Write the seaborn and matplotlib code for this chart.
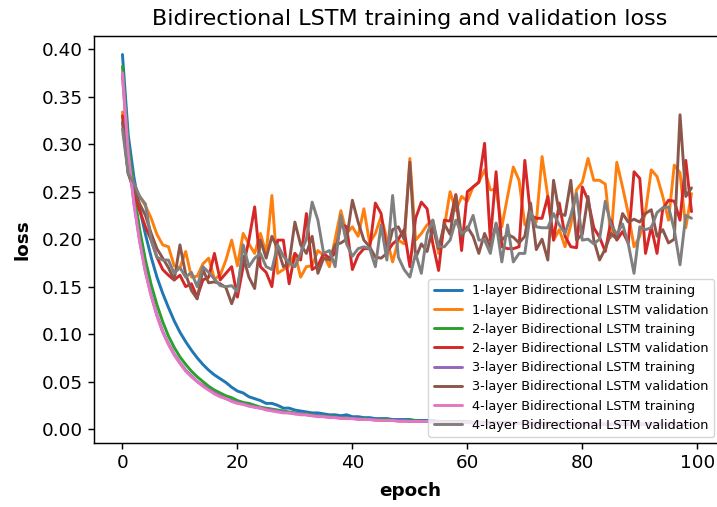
import numpy as np
import pandas as pd
import matplotlib
matplotlib.use("Agg")
import matplotlib.pyplot as plt
import seaborn as sns

epochs = list(range(100))

train_1 = [0.3945, 0.310, 0.265, 0.232, 0.205, 0.181, 0.160, 0.143, 0.128, 0.114,
           0.102, 0.092, 0.083, 0.075, 0.068, 0.062, 0.057, 0.053, 0.049, 0.044,
           0.040, 0.038, 0.034, 0.032, 0.030, 0.027, 0.027, 0.025, 0.022, 0.022,
           0.020, 0.019, 0.018, 0.017, 0.017, 0.016, 0.015, 0.015, 0.014, 0.015,
           0.013, 0.013, 0.012, 0.012, 0.011, 0.011, 0.011, 0.010, 0.010, 0.010,
           0.010, 0.009, 0.009, 0.009, 0.009, 0.008, 0.008, 0.008, 0.008, 0.008,
           0.008, 0.007, 0.007, 0.007, 0.007, 0.007, 0.007, 0.007, 0.006, 0.006,
           0.006, 0.006, 0.006, 0.006, 0.006, 0.006, 0.006, 0.005, 0.005, 0.005,
           0.005, 0.005, 0.005, 0.005, 0.005, 0.005, 0.005, 0.005, 0.005, 0.005,
           0.005, 0.005, 0.005, 0.005, 0.005, 0.005, 0.005, 0.005, 0.005, 0.005]

val_1 = [0.334, 0.290, 0.255, 0.245, 0.235, 0.222, 0.205, 0.194, 0.192, 0.172,
         0.170, 0.187, 0.160, 0.161, 0.174, 0.180, 0.158, 0.162, 0.178, 0.199,
         0.172, 0.206, 0.195, 0.185, 0.206, 0.185, 0.246, 0.164, 0.168, 0.172,
         0.185, 0.160, 0.171, 0.172, 0.188, 0.183, 0.171, 0.200, 0.230, 0.206,
         0.213, 0.203, 0.232, 0.196, 0.206, 0.224, 0.200, 0.176, 0.199, 0.195,
         0.285, 0.199, 0.206, 0.215, 0.220, 0.185, 0.213, 0.250, 0.230, 0.245,
         0.240, 0.255, 0.260, 0.273, 0.252, 0.252, 0.213, 0.245, 0.276, 0.262,
         0.215, 0.222, 0.218, 0.287, 0.245, 0.199, 0.210, 0.192, 0.215, 0.252,
         0.260, 0.285, 0.262, 0.262, 0.258, 0.202, 0.281, 0.255, 0.227, 0.192,
         0.203, 0.229, 0.273, 0.266, 0.245, 0.220, 0.278, 0.270, 0.212, 0.248]

train_2 = [0.382, 0.300, 0.250, 0.210, 0.178, 0.152, 0.131, 0.113, 0.098, 0.086,
           0.076, 0.068, 0.061, 0.055, 0.050, 0.045, 0.041, 0.038, 0.035, 0.033,
           0.030, 0.028, 0.027, 0.025, 0.023, 0.022, 0.021, 0.020, 0.019, 0.018,
           0.017, 0.016, 0.016, 0.015, 0.014, 0.014, 0.013, 0.013, 0.012, 0.012,
           0.011, 0.011, 0.011, 0.010, 0.010, 0.010, 0.010, 0.009, 0.009, 0.009,
           0.009, 0.009, 0.008, 0.008, 0.008, 0.008, 0.008, 0.008, 0.007, 0.007,
           0.007, 0.007, 0.007, 0.007, 0.007, 0.007, 0.006, 0.006, 0.006, 0.006,
           0.006, 0.006, 0.006, 0.006, 0.006, 0.006, 0.006, 0.006, 0.005, 0.005,
           0.005, 0.005, 0.005, 0.005, 0.005, 0.005, 0.005, 0.005, 0.005, 0.005,
           0.005, 0.005, 0.005, 0.005, 0.005, 0.005, 0.005, 0.005, 0.005, 0.005]

val_2 = [0.330, 0.270, 0.250, 0.230, 0.213, 0.199, 0.181, 0.168, 0.162, 0.157,
         0.162, 0.150, 0.153, 0.139, 0.157, 0.160, 0.185, 0.157, 0.164, 0.171,
         0.139, 0.171, 0.199, 0.234, 0.171, 0.165, 0.150, 0.199, 0.199, 0.153,
         0.185, 0.178, 0.227, 0.168, 0.172, 0.185, 0.180, 0.185, 0.216, 0.213,
         0.168, 0.183, 0.190, 0.190, 0.238, 0.227, 0.186, 0.195, 0.200, 0.210,
         0.171, 0.222, 0.239, 0.232, 0.195, 0.167, 0.220, 0.219, 0.247, 0.188,
         0.250, 0.255, 0.260, 0.301, 0.199, 0.271, 0.192, 0.190, 0.190, 0.192,
         0.283, 0.225, 0.222, 0.222, 0.245, 0.199, 0.238, 0.203, 0.192, 0.191,
         0.255, 0.241, 0.212, 0.202, 0.187, 0.220, 0.199, 0.208, 0.196, 0.271,
         0.264, 0.185, 0.213, 0.185, 0.232, 0.241, 0.240, 0.220, 0.283, 0.229]

train_3 = [0.372, 0.290, 0.238, 0.198, 0.166, 0.141, 0.120, 0.103, 0.090, 0.079,
           0.070, 0.062, 0.056, 0.050, 0.046, 0.042, 0.038, 0.035, 0.032, 0.030,
           0.028, 0.026, 0.025, 0.023, 0.022, 0.021, 0.020, 0.019, 0.018, 0.017,
           0.016, 0.016, 0.015, 0.014, 0.014, 0.013, 0.013, 0.012, 0.012, 0.011,
           0.011, 0.011, 0.010, 0.010, 0.010, 0.009, 0.009, 0.009, 0.009, 0.009,
           0.008, 0.008, 0.008, 0.008, 0.008, 0.008, 0.007, 0.007, 0.007, 0.007,
           0.007, 0.007, 0.007, 0.006, 0.006, 0.006, 0.006, 0.006, 0.006, 0.006,
           0.006, 0.006, 0.006, 0.005, 0.005, 0.005, 0.005, 0.005, 0.005, 0.005,
           0.005, 0.005, 0.005, 0.005, 0.005, 0.005, 0.005, 0.005, 0.005, 0.005,
           0.005, 0.005, 0.005, 0.005, 0.005, 0.005, 0.005, 0.005, 0.005, 0.005]

val_3 = [0.323, 0.269, 0.255, 0.237, 0.225, 0.206, 0.190, 0.180, 0.170, 0.157,
         0.194, 0.163, 0.146, 0.137, 0.168, 0.154, 0.155, 0.153, 0.149, 0.132,
         0.149, 0.182, 0.160, 0.148, 0.199, 0.180, 0.203, 0.190, 0.171, 0.175,
         0.218, 0.194, 0.185, 0.203, 0.164, 0.180, 0.178, 0.194, 0.196, 0.200,
         0.241, 0.218, 0.199, 0.192, 0.181, 0.180, 0.185, 0.210, 0.213, 0.200,
         0.281, 0.180, 0.195, 0.187, 0.213, 0.190, 0.216, 0.205, 0.246, 0.203,
         0.213, 0.203, 0.185, 0.206, 0.192, 0.216, 0.199, 0.205, 0.202, 0.196,
         0.203, 0.238, 0.189, 0.200, 0.178, 0.262, 0.227, 0.225, 0.262, 0.199,
         0.205, 0.245, 0.199, 0.178, 0.190, 0.206, 0.200, 0.227, 0.218, 0.221,
         0.218, 0.227, 0.231, 0.203, 0.210, 0.196, 0.200, 0.331, 0.245, 0.254]

train_4 = [0.375, 0.291, 0.237, 0.197, 0.165, 0.140, 0.119, 0.102, 0.089, 0.078,
           0.069, 0.061, 0.055, 0.050, 0.045, 0.041, 0.037, 0.034, 0.032, 0.029,
           0.027, 0.026, 0.024, 0.023, 0.022, 0.020, 0.019, 0.018, 0.017, 0.017,
           0.016, 0.015, 0.015, 0.014, 0.013, 0.013, 0.012, 0.012, 0.011, 0.011,
           0.011, 0.010, 0.010, 0.010, 0.009, 0.009, 0.009, 0.009, 0.008, 0.008,
           0.008, 0.008, 0.008, 0.008, 0.007, 0.007, 0.007, 0.007, 0.007, 0.007,
           0.007, 0.006, 0.006, 0.006, 0.006, 0.006, 0.006, 0.006, 0.006, 0.006,
           0.006, 0.005, 0.005, 0.005, 0.005, 0.005, 0.005, 0.005, 0.005, 0.005,
           0.005, 0.005, 0.005, 0.005, 0.005, 0.005, 0.005, 0.005, 0.005, 0.005,
           0.005, 0.005, 0.005, 0.005, 0.005, 0.005, 0.005, 0.005, 0.005, 0.005]

val_4 = [0.316, 0.269, 0.259, 0.245, 0.237, 0.199, 0.181, 0.178, 0.178, 0.164,
         0.170, 0.160, 0.165, 0.150, 0.171, 0.165, 0.158, 0.151, 0.150, 0.151,
         0.145, 0.194, 0.171, 0.180, 0.185, 0.171, 0.168, 0.194, 0.182, 0.175,
         0.171, 0.185, 0.200, 0.239, 0.220, 0.185, 0.188, 0.171, 0.225, 0.195,
         0.182, 0.190, 0.192, 0.190, 0.171, 0.215, 0.178, 0.246, 0.181, 0.168,
         0.160, 0.185, 0.164, 0.206, 0.220, 0.192, 0.192, 0.199, 0.220, 0.206,
         0.210, 0.225, 0.199, 0.199, 0.185, 0.217, 0.176, 0.215, 0.176, 0.185,
         0.185, 0.229, 0.213, 0.212, 0.212, 0.227, 0.215, 0.206, 0.225, 0.248,
         0.199, 0.200, 0.195, 0.200, 0.240, 0.215, 0.205, 0.216, 0.195, 0.164,
         0.213, 0.210, 0.212, 0.228, 0.233, 0.234, 0.210, 0.173, 0.225, 0.222]

labels = ["1-layer Bidirectional LSTM training",
          "1-layer Bidirectional LSTM validation",
          "2-layer Bidirectional LSTM training",
          "2-layer Bidirectional LSTM validation",
          "3-layer Bidirectional LSTM training",
          "3-layer Bidirectional LSTM validation",
          "4-layer Bidirectional LSTM training",
          "4-layer Bidirectional LSTM validation"]
series = [train_1, val_1, train_2, val_2, train_3, val_3, train_4, val_4]

frames = []
for lab, vals in zip(labels, series):
    frames.append(pd.DataFrame({"epoch": epochs, "loss": vals, "series": lab}))
df = pd.concat(frames, ignore_index=True)

sns.set_style("ticks")
plt.rcParams["font.family"] = ["DejaVu Sans"]
plt.rcParams["text.color"] = "black"
plt.rcParams["axes.labelcolor"] = "black"
plt.rcParams["xtick.color"] = "black"
plt.rcParams["ytick.color"] = "black"
plt.rcParams["axes.edgecolor"] = "black"

fig = plt.figure(figsize=(7.17, 5.07), dpi=100)
ax = fig.add_axes([94 / 717, (507 - 442.7) / 507, 632 / 717, 406.7 / 507])

palette = sns.color_palette("tab10", 8)
for i, lab in enumerate(labels):
    sns.lineplot(data=df[df["series"] == lab], x="epoch", y="loss",
                 color=palette[i], linewidth=2.1, label=lab, ax=ax)

ax.set_xlim(-4.95, 105.0)
ax.set_ylim(-0.0144, 0.414)
ax.set_xticks([0, 20, 40, 60, 80, 100])
ax.set_yticks([0.0, 0.05, 0.10, 0.15, 0.20, 0.25, 0.30, 0.35, 0.40])
ax.yaxis.set_major_formatter(matplotlib.ticker.FormatStrFormatter("%.2f"))
ax.tick_params(labelsize=13.2, length=4.6, width=1.05, colors="black")
for s in ax.spines.values():
    s.set_linewidth(1.05)
    s.set_color("black")

ax.set_xlabel("epoch", fontsize=13.2, fontweight="bold", labelpad=7)
ax.set_ylabel("loss", fontsize=13.2, fontweight="bold", labelpad=7)
ax.set_title("Bidirectional LSTM training and validation loss", fontsize=16, pad=8)
ax.grid(False)

leg = ax.legend(loc="lower right", fontsize=9.3, handlelength=2.2, labelspacing=0.48,
                borderaxespad=0.45, framealpha=0.8,
                bbox_to_anchor=(626 / 632, 0))

fig.savefig("out.png", dpi=100)
